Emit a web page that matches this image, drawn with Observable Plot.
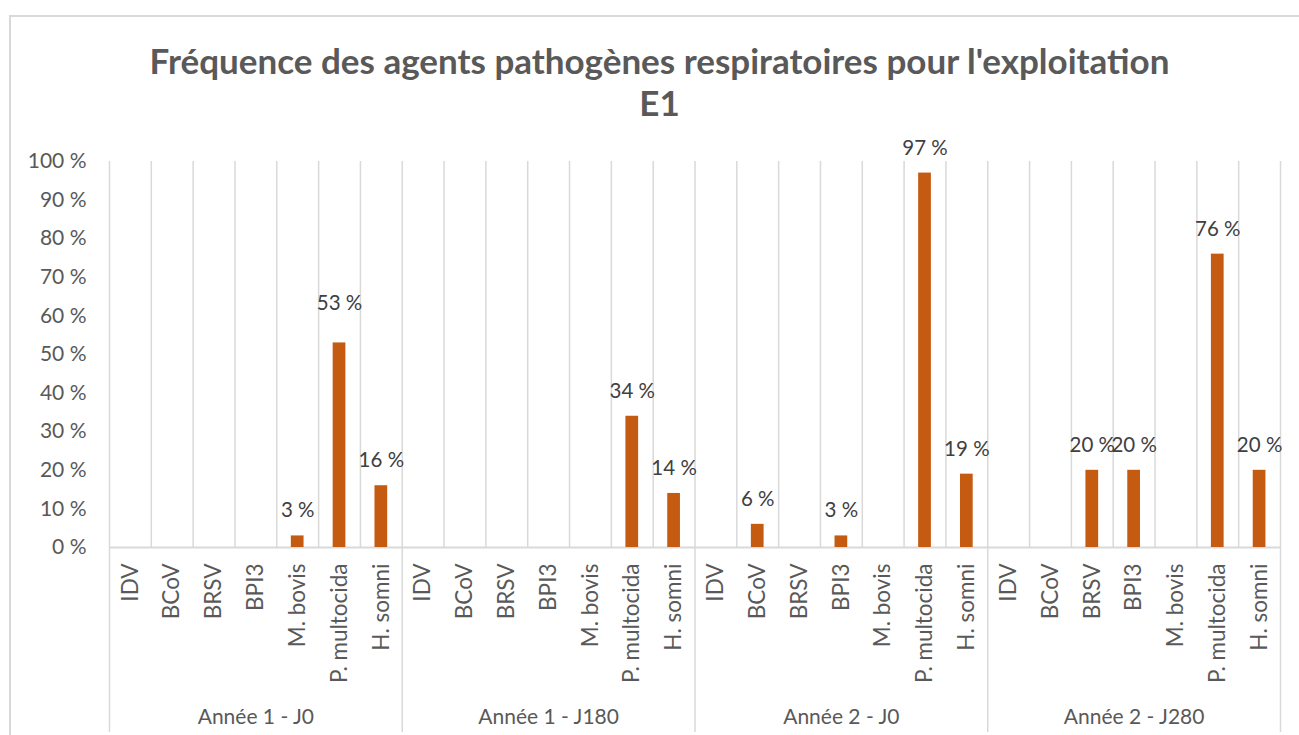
<!DOCTYPE html>
<html><head><meta charset="utf-8">
<script src="https://cdn.jsdelivr.net/npm/d3@7"></script>
<script src="https://cdn.jsdelivr.net/npm/@observablehq/plot@0.6"></script>
<style>
html,body{margin:0;padding:0;background:#fff;overflow:hidden;width:1299px;height:735px;position:relative;}
#frame{position:absolute;left:9px;top:15px;width:1400px;height:800px;border:2px solid #d9d9d9;box-sizing:border-box;}
#title{position:absolute;left:10px;width:1299px;top:39px;text-align:center;font-family:Lato,sans-serif;font-weight:bold;font-size:35px;line-height:42px;color:#595959;}
#chart{position:absolute;left:0;top:130px;}
#chart g[aria-label="x-axis tick label"] text{font-size:22.5px;}
</style></head><body>
<div id="frame"></div>
<div id="title">Fréquence des agents pathogènes respiratoires pour l'exploitation<br>E1</div>
<div id="chart"></div>
<script>
const groups = ["Année 1 - J0", "Année 1 - J180", "Année 2 - J0", "Année 2 - J280"];
const pathogens = ["IDV", "BCoV", "BRSV", "BPI3", "M. bovis", "P. multocida", "H. somni"];
const valuesA1J0   = [0, 0, 0, 0, 3, 53, 16];
const valuesA1J180 = [0, 0, 0, 0, 0, 34, 14];
const valuesA2J0   = [0, 6, 0, 3, 0, 97, 19];
const valuesA2J280 = [0, 0, 20, 20, 0, 76, 20];
const yTicks = [0, 10, 20, 30, 40, 50, 60, 70, 80, 90, 100];

const series = [valuesA1J0, valuesA1J180, valuesA2J0, valuesA2J280];
const keyOf = (g, p) => g + "|" + p;
const data = [];
groups.forEach((g, gi) => pathogens.forEach((p, pi) => data.push({group: g, pathogen: p, key: keyOf(g, p), value: series[gi][pi]})));
const keys = data.map(d => d.key);

const W = 1299, H = 605, mL = 109, mR = 19, mT = 31, mB = 188;
const bw = (W - mL - mR) / keys.length;
const barInset = bw * 0.348;
const raisedLabel = keyOf(groups[0], pathogens[5]);
const labelled = data.filter(d => d.value > 0);

const chart = Plot.plot({
  width: W, height: H,
  marginLeft: mL, marginRight: mR, marginTop: mT, marginBottom: mB,
  style: {fontFamily: "Lato, sans-serif", fontSize: "21px", color: "#595959", background: "transparent", overflow: "visible"},
  x: {domain: keys, padding: 0, round: false, tickFormat: k => k.split("|")[1], tickRotate: -90, tickSize: 0, tickPadding: 16, label: null},
  y: {domain: [0, 100], ticks: yTicks, tickFormat: t => t + " %", tickSize: 0, tickPadding: 23, label: null},
  marks: [
    Plot.ruleX(keys, {x: d => d, dx: -bw / 2, y1: 0, y2: 100, stroke: "#d9d9d9", strokeWidth: 1.5}),
    Plot.ruleX([keys[keys.length - 1]], {x: d => d, dx: bw / 2, y1: 0, y2: 100, stroke: "#d9d9d9", strokeWidth: 1.5}),
    Plot.ruleX(groups, {x: g => keyOf(g, pathogens[0]), dx: -bw / 2, insetTop: H - mT - mB, insetBottom: -mB + 3, stroke: "#d9d9d9", strokeWidth: 1.5}),
    Plot.ruleX([groups[groups.length - 1]], {x: g => keyOf(g, pathogens[pathogens.length - 1]), dx: bw / 2, insetTop: H - mT - mB, insetBottom: -mB + 3, stroke: "#d9d9d9", strokeWidth: 1.5}),
    Plot.ruleY([0], {stroke: "#d9d9d9", strokeWidth: 2}),
    Plot.barY(data, {x: "key", y: "value", fill: "#c55a11", insetLeft: barInset, insetRight: barInset}),
    Plot.text(labelled.filter(d => d.key !== raisedLabel), {x: "key", y: "value", text: d => d.value + " %", dy: -25, fill: "#404040", fontSize: 20.5}),
    Plot.text(labelled.filter(d => d.key === raisedLabel), {x: "key", y: "value", text: d => d.value + " %", dy: -39, fill: "#404040", fontSize: 20.5}),
    Plot.text(groups, {x: g => keyOf(g, pathogens[3]), frameAnchor: "bottom", dy: 176, text: g => g, fill: "#595959"})
  ]
});
document.getElementById("chart").appendChild(chart);
</script>
</body></html>
